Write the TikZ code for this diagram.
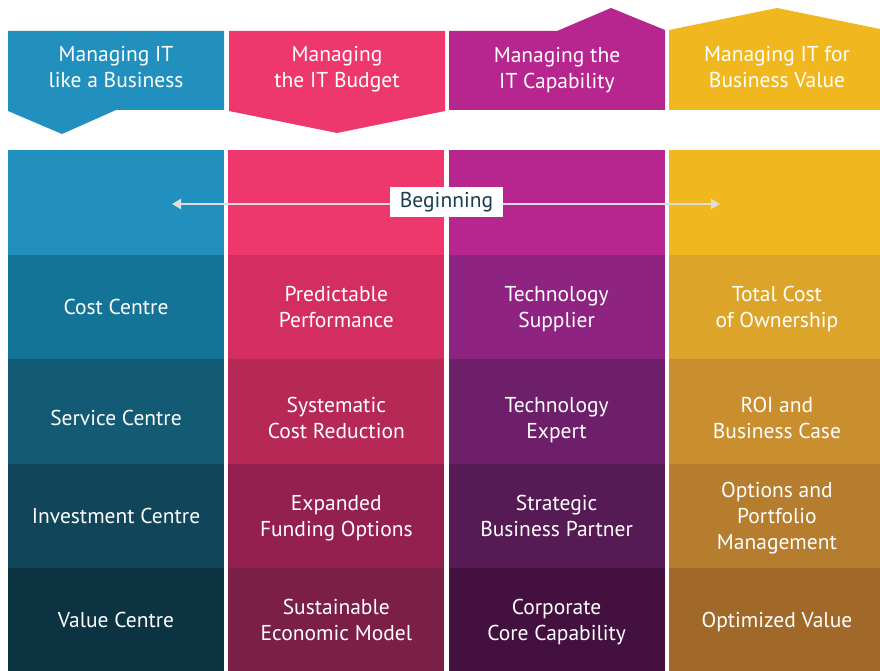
\documentclass[tikz,border=0pt]{standalone}
\usepackage{fontspec}
\setmainfont{PT Sans}
\usetikzlibrary{positioning,arrows.meta}

% column colours, from light (top) to dark (bottom)
\definecolor{blueA}{HTML}{2290BE}
\definecolor{blueB}{HTML}{137498}
\definecolor{blueC}{HTML}{135A74}
\definecolor{blueD}{HTML}{10455A}
\definecolor{blueE}{HTML}{0C3342}
\definecolor{pinkA}{HTML}{EE376D}
\definecolor{pinkB}{HTML}{D42D61}
\definecolor{pinkC}{HTML}{B62856}
\definecolor{pinkD}{HTML}{942050}
\definecolor{pinkE}{HTML}{7C1F47}
\definecolor{plumA}{HTML}{B7268F}
\definecolor{plumB}{HTML}{8F2382}
\definecolor{plumC}{HTML}{6E1F6A}
\definecolor{plumD}{HTML}{561A55}
\definecolor{plumE}{HTML}{43103F}
\definecolor{goldA}{HTML}{F0B81E}
\definecolor{goldB}{HTML}{DDA42A}
\definecolor{goldC}{HTML}{C98F2E}
\definecolor{goldD}{HTML}{B57D2D}
\definecolor{goldE}{HTML}{A0692A}
\definecolor{arrowgray}{HTML}{DEDEDE}
\definecolor{labelink}{HTML}{1B3D4F}

\newcommand{\cellfont}{\fontsize{21.5}{26}\selectfont}
% pushes the text of the second row a little lower
\newcommand{\lowstrut}{\rule{0pt}{28pt}}

\begin{document}
\begin{tikzpicture}[x=1pt,y=-1pt,
    cell/.style={minimum width=216pt, minimum height=104.5pt, inner sep=0pt,
      outer sep=0pt, text=white, align=center, font=\cellfont, text depth=0pt},
    head/.style={text=white, align=center, font=\cellfont, inner sep=0pt,
      text depth=0pt},
    arrowline/.style={draw=arrowgray, line width=2pt,
      -{Triangle[length=9pt,width=10pt]}}]
        \useasboundingbox (0,0) rectangle (880,671);
        % Define headers
        \fill[blueA] (8,31) -- (224,31) -- (224,110) -- (116,110) -- (62,134) -- (8,111) -- cycle;
        \fill[pinkA] (229,31) -- (445,31) -- (445,111) -- (337,133) -- (229,111) -- cycle;
        \fill[plumA] (449,31) -- (557,31) -- (611,8) -- (665,30) -- (665,110) -- (449,110) -- cycle;
        \fill[goldA] (669,30) -- (777,8) -- (885,30) -- (885,110) -- (669,110) -- cycle;
        \node[head] (h_1) at (116,67) {Managing IT\\like a Business}; %
        \node[head] (h_2) at (337,67) {Managing\\the IT Budget}; %
        \node[head] (h_3) at (557,68) {Managing the\\IT Capability}; %
        \node[head] (h_4) at (777,67) {Managing IT for\\Business Value}; %
        % top band
        \node[cell, fill=blueA, anchor=north west] (b_1) at (8,150) {}; %
        \node[cell, fill=pinkA, right=4.3pt of b_1] (b_2) {}; %
        \node[cell, fill=plumA, right=4.3pt of b_2] (b_3) {}; %
        \node[cell, fill=goldA, right=4.3pt of b_3] (b_4) {}; %
        % first column
        \node[cell, fill=blueB, below=0pt of b_1] (r_1_1) {Cost Centre}; %
        \node[cell, fill=blueC, below=0pt of r_1_1] (r_1_2) {\lowstrut Service Centre}; %
        \node[cell, fill=blueD, below=0pt of r_1_2] (r_1_3) {Investment Centre}; %
        \node[cell, fill=blueE, below=0pt of r_1_3] (r_1_4) {Value Centre}; %
        % second column
        \node[cell, fill=pinkB, below=0pt of b_2] (r_2_1) {Predictable\\Performance}; %
        \node[cell, fill=pinkC, below=0pt of r_2_1] (r_2_2) {\lowstrut Systematic\\Cost Reduction}; %
        \node[cell, fill=pinkD, below=0pt of r_2_2] (r_2_3) {Expanded\\Funding Options}; %
        \node[cell, fill=pinkE, below=0pt of r_2_3] (r_2_4) {Sustainable\\Economic Model}; %
        % third column
        \node[cell, fill=plumB, below=0pt of b_3] (r_3_1) {Technology\\Supplier}; %
        \node[cell, fill=plumC, below=0pt of r_3_1] (r_3_2) {\lowstrut Technology\\Expert}; %
        \node[cell, fill=plumD, below=0pt of r_3_2] (r_3_3) {Strategic\\Business Partner}; %
        \node[cell, fill=plumE, below=0pt of r_3_3] (r_3_4) {Corporate\\Core Capability}; %
        % fourth column
        \node[cell, fill=goldB, below=0pt of b_4] (r_4_1) {Total Cost\\of Ownership}; %
        \node[cell, fill=goldC, below=0pt of r_4_1] (r_4_2) {\lowstrut ROI and\\Business Case}; %
        \node[cell, fill=goldD, below=0pt of r_4_2] (r_4_3) {Options and\\Portfolio\\Management}; %
        \node[cell, fill=goldE, below=0pt of r_4_3] (r_4_4) {Optimized Value}; %
        % beginning arrow
        \node[fill=white, text=labelink, font=\cellfont, minimum width=113pt,
          minimum height=30pt, inner sep=0pt] (beg) at (446.5,201.7) {Beginning}; %
        \coordinate (lt) at (172,204);
        \coordinate (rt) at (720,204);
        \draw[arrowline] (beg.west |- lt) -- (lt);
        \draw[arrowline] (beg.east |- rt) -- (rt);
    \end{tikzpicture}
\end{document}
